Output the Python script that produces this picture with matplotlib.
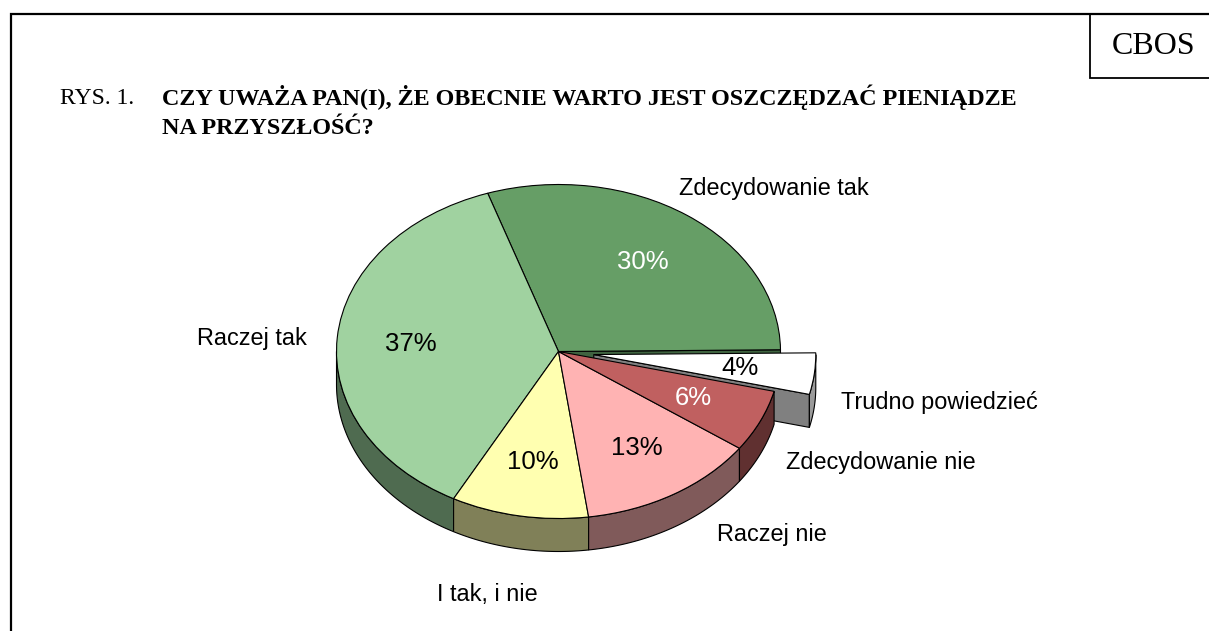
import matplotlib
matplotlib.use("Agg")
import matplotlib.pyplot as plt
import numpy as np

W, H = 1209, 631

labels = ["Zdecydowanie tak", "Raczej tak", "I tak, i nie", "Raczej nie",
          "Zdecydowanie nie", "Trudno powiedzieć"]
values = [30, 37, 10, 13, 6, 4]
pct_labels = ["30%", "37%", "10%", "13%", "6%", "4%"]

top_colors = ["#669E66", "#A0D2A0", "#FFFFB0", "#FFB3B3", "#C06060", "#FFFFFF"]
side_colors = ["#3F6340", "#4F6B50", "#808058", "#805A5A", "#603030", "#9A9A9A"]
pct_colors = ["white", "black", "black", "black", "white", "black"]
explode = [0, 0, 0, 0, 0, 0.16]

# where the texts sit, in picture pixels
label_pos = [(774, 189), (252, 339), (487, 594), (772, 534), (881, 463), (939, 402)]
pct_pos = [(643, 262), (411, 344), (533, 462), (637, 448), (693, 398), (740, 368)]

# pie geometry in picture pixels
cx, cy = 558.5, 351.5
rx, ry = 222, 167
depth = 33 / ry

SANS = "Liberation Sans"
SERIF = "Liberation Serif"

fig = plt.figure(figsize=(W / 100, H / 100), dpi=100, facecolor="white")

ax = fig.add_axes([0, 0, 1, 1])
wedges, _ = ax.pie(values, explode=explode, colors=top_colors, startangle=0.6,
                   wedgeprops=dict(edgecolor="black", linewidth=0.8, zorder=5))
ax.set_aspect("auto")
ax.set_xlim(-cx / rx, (W - cx) / rx)
ax.set_ylim((cy - H) / ry, cy / ry)
ax.axis("off")


def rim(w, color, z):
    a = max(w.theta1, 180)
    b = min(w.theta2, 360)
    if b <= a:
        return
    t = np.radians(np.linspace(a, b, 80))
    x = w.center[0] + w.r * np.cos(t)
    y = w.center[1] + w.r * np.sin(t)
    ax.fill(np.r_[x, x[::-1]], np.r_[y, y[::-1] - depth], facecolor=color,
            edgecolor="black", linewidth=0.8, zorder=z)


def cut_face(w, angle, color, z):
    t = np.radians(angle)
    x0, y0 = w.center
    x1 = x0 + w.r * np.cos(t)
    y1 = y0 + w.r * np.sin(t)
    ax.fill([x0, x1, x1, x0], [y0, y1, y1 - depth, y0 - depth], facecolor=color,
            edgecolor="black", linewidth=0.8, zorder=z)


# back to front: green cut, detached slice, then the rest of the rim
cut_face(wedges[0], wedges[0].theta1, side_colors[0], 1)
cut_face(wedges[5], wedges[5].theta1, "#808080", 2)
rim(wedges[5], side_colors[5], 2)
for w, c in zip(wedges[:5], side_colors[:5]):
    rim(w, c, 3)

page = fig.add_axes([0, 0, 1, 1], facecolor="none")
page.set_xlim(0, W)
page.set_ylim(H, 0)
page.axis("off")

page.plot([11, 11, W], [H, 14, 14], color="black", lw=1.6, solid_joinstyle="miter")
page.plot([1090, 1090, W], [14, 78, 78], color="black", lw=1.3, solid_joinstyle="miter")

page.text(1154, 47, "CBOS", family=SERIF, fontsize=23, ha="center", va="center")
page.text(60, 98, "RYS. 1.", family=SERIF, fontsize=17, va="center")
page.text(162, 97, "CZY UWAŻA PAN(I), ŻE OBECNIE WARTO JEST OSZCZĘDZAĆ PIENIĄDZE",
          family=SERIF, fontsize=17.35, fontweight="bold", va="center")
page.text(162, 128, "NA PRZYSZŁOŚĆ?", family=SERIF, fontsize=17.35, fontweight="bold", va="center")

for txt, pos in zip(labels, label_pos):
    page.text(pos[0], pos[1], txt, family=SANS, fontsize=16.9, ha="center", va="center")
for txt, pos, c in zip(pct_labels, pct_pos, pct_colors):
    page.text(pos[0], pos[1], txt, family=SANS, fontsize=18.5, color=c, ha="center", va="center")

fig.savefig("out.png", dpi=100)
